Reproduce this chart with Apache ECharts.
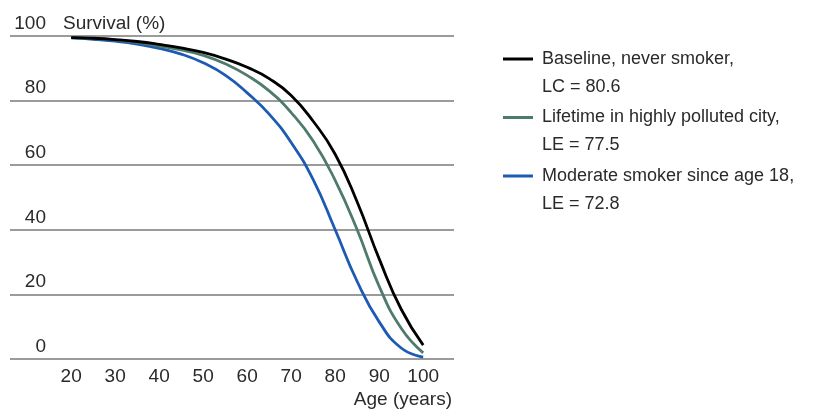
<!DOCTYPE html>
<html><head><meta charset="utf-8">
<script src="https://cdn.jsdelivr.net/npm/echarts@6/dist/echarts.min.js"></script>
<style>html,body{margin:0;padding:0;background:#fff}#c{width:822px;height:414px}</style>
</head><body><div id="c"></div>
<script>
const ages = [20,25,30,35,40,45,50,55,60,65,70,75,80,85,90,95,100];
const baseline = [99.5,99.3,98.9,98.3,97.4,96.3,94.9,92.9,90.3,86.8,81.6,73.6,63.4,48.6,31.0,15.4,4.3];
const polluted = [99.5,99.2,98.8,98.0,96.9,95.7,94.0,91.4,87.8,83.0,76.3,67.5,55.3,40,22.5,9.5,1.9];
const smoker   = [99.4,99.0,98.4,97.5,96.2,94.4,91.7,87.9,82.4,75.8,67.0,55.5,40,24,11.5,3.4,0.6];
const seriesNames = ['Baseline, never smoker,\nLC = 80.6','Lifetime in highly polluted city,\nLE = 77.5','Moderate smoker since age 18,\nLE = 72.8'];
const colors = ['#000000','#4e7b6b','#1d5ab4'];
const xTicks = [20,30,40,50,60,70,80,90,100];
const yTicks = [0,20,40,60,80,100];
const font = '"Liberation Sans", Arial, sans-serif';
const txt = '#2a2a2a';

const chart = echarts.init(document.getElementById('c'));
const mk = (arr)=> ages.map((a,i)=>[a,arr[i]]);
const allData = [baseline, polluted, smoker];
const legendTops = [17, 75.5, 134];
chart.setOption({
  animation:false,
  grid:{left:10,right:368,top:36,bottom:55,containLabel:false},
  xAxis:{type:'value',min:6.1,max:107,
    axisLine:{show:false},axisTick:{show:false},splitLine:{show:false},
    axisLabel:{customValues:xTicks,margin:8,fontSize:19,color:txt,fontFamily:font}},
  yAxis:{type:'value',min:0,max:100,interval:20,
    axisLine:{show:false},axisTick:{show:false},
    splitLine:{lineStyle:{color:'#7a7a7a',width:1.5}},
    axisLabel:{margin:-36,align:'right',verticalAlign:'bottom',padding:[0,0,3,0],fontSize:19,color:txt,fontFamily:font}},
  legend: seriesNames.map((n,i)=>({orient:'vertical',left:503,top:legendTops[i],padding:0,
    itemWidth:30,itemHeight:3,icon:'rect',
    data:[n],
    formatter:(name)=>'\n'+name,
    textStyle:{fontSize:18,lineHeight:28,color:txt,fontFamily:font,padding:[0,0,0,4]}})),
  graphic:[
    {type:'text',left:63,top:14,style:{text:'Survival (%)',font:'19px '+font,fill:txt}},
    {type:'text',right:370,top:390,style:{text:'Age (years)',font:'19px '+font,fill:txt}}
  ],
  series: seriesNames.map((n,i)=>({name:n,type:'line',smooth:0.5,showSymbol:false,symbol:'none',
    data:mk(allData[i]),color:colors[i],lineStyle:{width:2.8,color:colors[i]}})).reverse()
});
</script></body></html>
